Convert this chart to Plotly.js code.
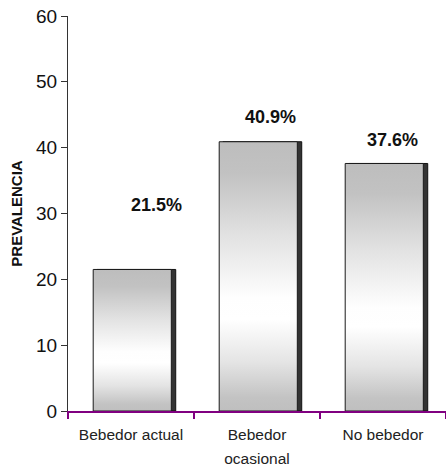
<!DOCTYPE html>
<html>
<head>
<meta charset="utf-8">
<script src="https://cdn.plot.ly/plotly-3.0.1.min.js"></script>
<style>
  html, body { margin: 0; padding: 0; background: #fff; }
  #chart { width: 446px; height: 475px; }
</style>
</head>
<body>
<div id="chart"></div>
<script>
// Prevalencia por tipo de consumo (%)
const categories = ['Bebedor actual', 'Bebedor<br>ocasional', 'No bebedor'];
const prevalence = [21.5, 40.9, 37.6];
const yTickValues = [0, 10, 20, 30, 40, 50, 60];
const yAxisTitle = 'PREVALENCIA';

// placement of the percentage labels relative to each bar top (px)
const labelShiftX = [25, 13, 9];
const labelShiftY = [64, 25, 23];

const arial = '"Liberation Sans", Arial, sans-serif';

// dark strip on the right side of each bar, drawn behind the bar
const shadowTrace = {
  type: 'bar',
  x: categories,
  y: prevalence,
  offset: -0.27,
  width: 0.625,
  marker: { color: '#333333', line: { color: '#111111', width: 1 } },
  hoverinfo: 'skip'
};

const barTrace = {
  type: 'bar',
  x: categories,
  y: prevalence,
  offset: -0.30,
  width: 0.62,
  marker: { color: '#d0d0d0', line: { color: '#1a1a1a', width: 1 } },
  hoverinfo: 'skip'
};

const annotations = prevalence.map((v, i) => ({
  x: categories[i],
  y: v,
  xref: 'x',
  yref: 'y',
  text: v.toFixed(1) + '%',
  showarrow: false,
  xanchor: 'center',
  yanchor: 'middle',
  xshift: labelShiftX[i],
  yshift: labelShiftY[i],
  font: { family: arial, size: 18, color: '#111111', weight: 'bold' }
}));

const layout = {
  width: 446,
  height: 475,
  margin: { l: 68, r: 0, t: 16, b: 64 },
  paper_bgcolor: '#ffffff',
  plot_bgcolor: '#ffffff',
  showlegend: false,
  barmode: 'overlay',
  xaxis: {
    type: 'category',
    range: [-0.5, 2.5],
    showline: true,
    linecolor: '#800080',
    linewidth: 2,
    ticks: 'outside',
    tickson: 'boundaries',
    ticklen: 6,
    tickwidth: 2,
    tickcolor: '#800080',
    tickangle: 0,
    ticklabelstandoff: 8,
    showgrid: false,
    zeroline: false,
    tickfont: { family: arial, size: 15.5, color: '#222222' }
  },
  yaxis: {
    range: [0, 60],
    tickvals: yTickValues,
    ticktext: yTickValues.map(String),
    showline: true,
    linecolor: '#333333',
    linewidth: 1,
    ticks: 'outside',
    ticklen: 6,
    tickwidth: 1,
    tickcolor: '#333333',
    showgrid: false,
    zeroline: false,
    tickfont: { family: arial, size: 19, color: '#111111' },
    title: {
      text: yAxisTitle,
      font: { family: arial, size: 15, color: '#111111', weight: 'bold' }
    }
  },
  annotations: annotations
};

Plotly.newPlot('chart', [shadowTrace, barTrace], layout, { staticPlot: true, displayModeBar: false })
  .then(gd => {
    // vertical gray-white-gray shading for the front bars
    const svgNS = 'http://www.w3.org/2000/svg';
    const defs = gd.querySelector('.main-svg defs');
    const grad = document.createElementNS(svgNS, 'linearGradient');
    grad.setAttribute('id', 'barShade');
    grad.setAttribute('x1', '0'); grad.setAttribute('y1', '0');
    grad.setAttribute('x2', '0'); grad.setAttribute('y2', '1');
    [[0, '#bdbdbd'], [0.12, '#c2c2c2'], [0.35, '#e2e2e2'], [0.58, '#fefefe'],
     [0.66, '#ffffff'], [0.82, '#e4e4e4'], [0.95, '#c3c3c3'], [1, '#bfbfbf']]
      .forEach(([o, c]) => {
        const s = document.createElementNS(svgNS, 'stop');
        s.setAttribute('offset', o);
        s.setAttribute('stop-color', c);
        grad.appendChild(s);
      });
    defs.appendChild(grad);
    const traces = gd.querySelectorAll('.barlayer .trace');
    const front = traces[traces.length - 1];
    front.querySelectorAll('.point path').forEach(p => { p.style.fill = 'url(#barShade)'; });

    // looser line spacing for the two-line category label (second line onward)
    gd.querySelectorAll('.xtick text').forEach(txt => {
      const lines = txt.querySelectorAll('tspan.line');
      lines.forEach((t, i) => { if (i > 0) t.setAttribute('dy', '1.55em'); });
    });

    // pull the axis title a little closer to the page edge
    const yt = gd.querySelector('.ytitle');
    if (yt) yt.setAttribute('transform', 'translate(-6,0) ' + (yt.getAttribute('transform') || ''));
  });
</script>
</body>
</html>
